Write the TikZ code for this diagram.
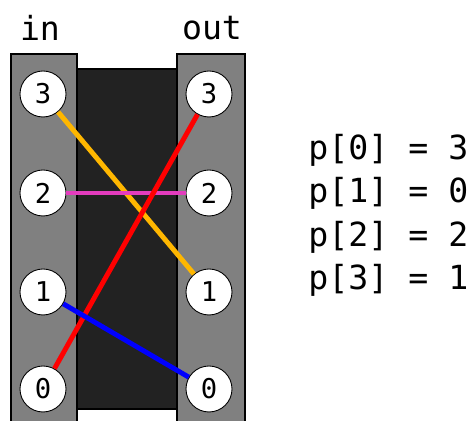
\documentclass[tikz,border=0pt]{standalone}
\usepackage{fontspec}
\newfontfamily\codefont{DejaVu Sans Mono}
\usepackage{tikz}
\usetikzlibrary{shadows}
\definecolor{stripgray}{RGB}{128,128,128}
\definecolor{boxdark}{RGB}{34,34,34}
\definecolor{wireyellow}{RGB}{255,183,0}
\definecolor{wirepink}{RGB}{228,60,190}
\definecolor{wirered}{RGB}{255,0,0}
\definecolor{wireblue}{RGB}{0,0,255}
\tikzset{
  strip/.style={draw=black, line width=1.6pt, fill=stripgray},
  socket/.style={circle, draw=black, line width=0.5pt, fill=white, minimum size=0.92cm,
                 inner sep=0pt, font=\codefont\fontsize{15.5}{16}\selectfont,
                 drop shadow={opacity=0.45, shadow xshift=0.6pt, shadow yshift=-0.6pt}},
  wire/.style={line width=2.8pt},
  codetext/.style={font=\codefont\fontsize{18.9}{20}\selectfont, inner sep=0pt},
}

\begin{document}
\begin{tikzpicture}[x=0.02cm, y=-0.02cm]
\clip (0,0) rectangle (474,421);
\fill[white] (0,0) rectangle (474,421);
% box and the two strips
\draw[draw=black, line width=1.6pt, fill=boxdark] (77,69) rectangle (177,409);
\draw[strip] (11,54) rectangle (77,440);
\draw[strip] (177,54) rectangle (245,440);
\node[codetext] (lblin) at (40,28) {in};
\node[codetext] (lblout) at (212,28) {out};
% sockets
\foreach \i/\y in {0/389, 1/292, 2/193, 3/94} {
  \node[socket] (in\i) at (43,\y) {\i};
  \node[socket] (out\i) at (209,\y) {\i};
}
% wires
\foreach \a/\b/\c in {in3/out1/wireyellow, in2/out2/wirepink, in0/out3/wirered, in1/out0/wireblue}
  \draw[wire, \c] (\a) -- (\b);
% table
\foreach \k/\v/\y in {0/3/150, 1/0/193, 2/2/237, 3/1/280}
  \node[codetext, anchor=west] (p\k) at (308,\y) {p[\k] = \v};
\end{tikzpicture}
\end{document}
